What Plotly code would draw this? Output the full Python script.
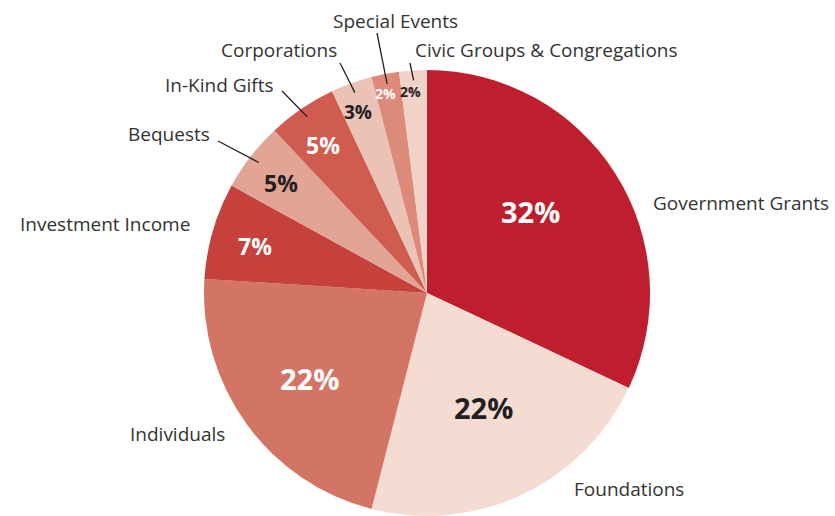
import math
import plotly.graph_objects as go

# ---- data ----
categories = ["Government Grants", "Foundations", "Individuals", "Investment Income",
              "Bequests", "In-Kind Gifts", "Corporations", "Special Events",
              "Civic Groups & Congregations"]
values = [32, 22, 22, 7, 5, 5, 3, 2, 2]
pct_labels = ["32%", "22%", "22%", "7%", "5%", "5%", "3%", "2%", "2%"]

# ---- style ----
colors = ["#BE1E2D", "#F5DCD2", "#D37565", "#C6403C", "#E2A494",
          "#CF5C4F", "#EBC2B6", "#DE8A7B", "#F0D2C8"]
pct_colors = ["#FFFFFF", "#231F20", "#FFFFFF", "#FFFFFF", "#231F20",
              "#FFFFFF", "#231F20", "#FFFFFF", "#231F20"]
pct_sizes = [29, 29, 29, 23, 23, 23, 19, 14, 14]
pct_rfrac = [0.59, 0.57, 0.65, 0.80, 0.82, 0.81, 0.87, 0.915, 0.905]
pct_dtheta = [-6, -1, 0, -1, -1, -1, -1, -1, -1]
# outside label anchor (px) and anchor side
lab_pos = [(651, 203, "left"), (572, 489, "left"), (227, 434, "right"),
           (192, 224, "right"), (212, 134, "right"), (276, 85, "right"),
           (339, 50, "right"), (395, 21, "center"), (413, 50, "left")]
# leader line outer end (px) or None
leader_end = [None, None, None, None, (218, 141), (282, 91), (340, 63), (377, 33), (410, 63)]

W, H = 835, 516
CX, R = 427, 223
TOP = 70
CY = TOP + R

def px(x, y):
    return x / W, 1 - y / H

fig = go.Figure(go.Pie(
    labels=categories, values=values, sort=False, direction="clockwise", rotation=0,
    marker=dict(colors=colors, line=dict(width=0)),
    textinfo="none", hoverinfo="label+percent", showlegend=False,
    domain=dict(x=[(CX - R) / W, (CX + R) / W], y=[0, 1 - TOP / H]),
))

total = sum(values)
cum = 0
annotations = []
shapes = []
for i, v in enumerate(values):
    mid = 360 * (cum + v / 2) / total
    cum += v
    th = math.radians(mid + pct_dtheta[i])
    r = pct_rfrac[i] * R
    x, y = px(CX + r * math.sin(th), CY - r * math.cos(th))
    annotations.append(dict(x=x, y=y, xref="paper", yref="paper", text="<b>%s</b>" % pct_labels[i],
                            showarrow=False, xanchor="center", yanchor="middle",
                            font=dict(family="Open Sans", size=pct_sizes[i], color=pct_colors[i])))
    lx, ly, anc = lab_pos[i]
    ax, ay = px(lx, ly)
    annotations.append(dict(x=ax, y=ay, xref="paper", yref="paper", text=categories[i],
                            showarrow=False, xanchor=anc, yanchor="middle",
                            font=dict(family="Open Sans", size=19, color="#333333")))
    if leader_end[i] is not None:
        tm = math.radians(mid)
        tr = 0.955 * R
        x0, y0 = px(CX + tr * math.sin(tm), CY - tr * math.cos(tm))
        x1, y1 = px(*leader_end[i])
        shapes.append(dict(type="line", xref="paper", yref="paper", x0=x0, y0=y0, x1=x1, y1=y1,
                           line=dict(color="#231F20", width=1.3)))

fig.update_layout(width=W, height=H, margin=dict(l=0, r=0, t=0, b=0),
                  paper_bgcolor="white", plot_bgcolor="white",
                  annotations=annotations, shapes=shapes)
fig.write_html("out.html", config={"displayModeBar": False},
               post_script="document.body.style.margin='0';document.body.style.overflow='hidden';")
